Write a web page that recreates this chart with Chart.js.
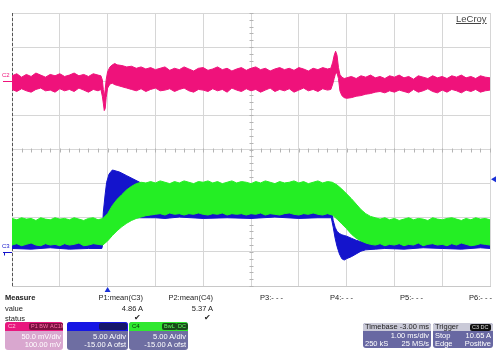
<!DOCTYPE html>
<html><head><meta charset="utf-8">
<script src="https://cdn.jsdelivr.net/npm/chart.js@4/dist/chart.umd.min.js"></script>
<style>
html,body{margin:0;padding:0;background:#fff;}
#wrap{position:relative;width:499px;height:357px;overflow:hidden;font-family:"Liberation Sans",Arial,sans-serif;}
#cv{position:absolute;left:0;top:0;}
.t{position:absolute;white-space:nowrap;font-size:7.5px;color:#222;line-height:9px;}
.r{text-align:right;}
.box{position:absolute;border-radius:3px;overflow:hidden;background:#6e6ea2;}
.hd{position:absolute;left:0;right:0;top:0;height:9px;}
.bt{position:absolute;white-space:nowrap;font-size:7.5px;color:#fff;line-height:8px;}
.tag{position:absolute;top:1px;height:7px;font-size:5.5px;line-height:7px;padding:0 2px;border-radius:2px;}
</style></head>
<body>
<div id="wrap">
<canvas id="cv" width="499" height="357"></canvas>
</div>
<script>
// ---- C2 (output voltage, mV) : upper / lower envelope of the noise band ----
const pinkT = [-2.0,-1.9,-1.8,-1.7,-1.6,-1.5,-1.4,-1.3,-1.2,-1.1,
  -1.0,-0.9,-0.8,-0.7,-0.6,-0.5,-0.4,-0.3,-0.2,
  -0.14,-0.11,-0.09,-0.07,-0.05,-0.03,0.0,0.05,0.1,0.15,0.2,
  0.3,0.4,0.5,0.6,0.7,0.8,0.9,1.0,1.1,1.2,
  1.3,1.4,1.5,1.6,1.7,1.8,1.9,2.0,2.1,2.2,
  2.3,2.4,2.5,2.6,2.7,2.8,2.9,3.0,3.1,3.2,
  3.3,3.4,3.5,3.6,3.7,3.8,3.9,4.0,4.1,4.2,
  4.3,4.4,4.5,4.6,
  4.67,4.71,4.74,4.77,4.8,4.83,4.86,4.9,4.95,5.0,
  5.1,5.2,5.3,5.4,5.5,5.6,5.7,5.8,5.9,6.0,
  6.1,6.2,6.3,6.4,6.5,6.6,6.7,6.8,6.9,7.0,
  7.1,7.2,7.3,7.4,7.5,7.6,7.7,7.8,7.9,8.0];
const pinkHi = [8,11,6,10,7,12,9,6,10,8,
  11,7,9,12,8,10,7,11,9,
  8,2,-12,-23,-12,2,14,21,24,26,24,
  23,21,22,19,21,18,20,17,19,21,
  16,19,17,21,18,15,19,20,16,18,
  21,17,19,15,18,20,16,19,21,17,
  19,15,18,20,17,19,16,20,18,15,
  19,17,20,18,
  19,28,38,44,38,20,10,6,4,5,
  7,4,8,6,9,5,7,4,8,6,
  9,5,7,3,8,6,4,8,5,7,
  4,8,6,9,5,7,4,8,6,5];
const pinkLo = [-12,-15,-11,-14,-16,-12,-10,-14,-13,-16,
  -11,-14,-12,-15,-10,-13,-16,-12,-14,
  -12,-22,-32,-43,-40,-24,-10,-4,-3,-5,-6,
  -8,-10,-12,-14,-11,-15,-12,-10,-14,-13,
  -11,-15,-12,-10,-14,-16,-12,-13,-15,-11,
  -14,-12,-16,-10,-13,-15,-11,-14,-12,-16,
  -13,-10,-15,-12,-14,-11,-16,-13,-10,-14,
  -12,-15,-11,-13,
  -12,-4,4,12,12,4,-14,-21,-24,-25,
  -24,-22,-21,-19,-18,-16,-15,-17,-14,-16,
  -13,-15,-17,-12,-16,-14,-11,-15,-17,-13,
  -16,-12,-14,-17,-13,-15,-12,-16,-14,-13];

// ---- C4 (current, A) ----
const greenT = [-2.0,-1.9,-1.8,-1.7,-1.6,-1.5,-1.4,-1.3,-1.2,-1.1,
  -1.0,-0.9,-0.8,-0.7,-0.6,-0.5,-0.4,-0.3,-0.2,-0.1,
  0.0,0.1,0.2,0.3,0.4,0.5,0.6,0.7,0.8,0.9,
  1.0,1.1,1.2,1.3,1.4,1.5,1.6,1.7,1.8,1.9,
  2.0,2.1,2.2,2.3,2.4,2.5,2.6,2.7,2.8,2.9,
  3.0,3.1,3.2,3.3,3.4,3.5,3.6,3.7,3.8,3.9,
  4.0,4.1,4.2,4.3,4.4,4.5,4.6,4.7,4.8,4.9,
  5.0,5.1,5.2,5.3,5.4,5.5,5.6,5.7,5.8,5.9,
  6.0,6.1,6.2,6.3,6.4,6.5,6.6,6.7,6.8,6.9,
  7.0,7.1,7.2,7.3,7.4,7.5,7.6,7.7,7.8,7.9,
  8.0];
const greenHi = [4.9,4.7,5.0,4.8,4.9,4.6,5.0,4.8,4.7,5.0,
  4.8,4.9,4.7,5.0,4.8,4.6,4.9,5.0,4.7,4.9,
  5.6,6.8,7.7,8.4,9.1,9.6,10.0,10.2,10.1,10.3,
  10.1,10.4,10.2,10.0,10.3,10.1,10.4,10.2,10.0,10.3,
  10.2,10.4,10.1,10.3,10.0,10.2,10.4,10.1,10.3,10.2,
  10.0,10.3,10.1,10.4,10.2,10.0,10.3,10.1,10.2,10.4,
  10.1,10.3,10.0,10.2,10.4,10.1,10.3,10.2,9.8,9.2,
  8.5,7.8,7.0,6.2,5.6,5.2,5.0,4.8,5.0,4.7,
  4.9,4.6,4.8,5.0,4.7,4.9,4.8,4.6,5.0,4.8,
  4.7,4.9,5.0,4.8,4.6,4.9,4.7,5.0,4.8,4.9,
  4.7];
const greenLo = [1.0,1.2,0.9,1.1,1.3,1.0,0.9,1.2,1.0,1.1,
  0.9,1.2,1.0,1.1,1.3,0.9,1.0,1.2,1.1,1.0,
  1.6,2.4,3.1,3.7,4.2,4.6,4.9,5.1,5.3,5.4,
  5.5,5.6,5.4,5.7,5.5,5.6,5.4,5.6,5.5,5.7,
  5.5,5.4,5.6,5.5,5.7,5.4,5.6,5.5,5.6,5.4,
  5.6,5.5,5.7,5.4,5.6,5.5,5.4,5.6,5.7,5.5,
  5.4,5.6,5.5,5.7,5.5,5.4,5.6,5.4,4.8,4.1,
  3.4,2.6,2.0,1.6,1.3,1.1,1.0,1.2,0.9,1.1,
  1.0,1.2,0.9,1.1,1.0,1.3,0.9,1.1,1.2,1.0,
  1.1,0.9,1.2,1.0,1.3,1.1,0.9,1.0,1.2,1.1,
  1.0];

// ---- C3 (current, A) ----
const blueT = [-2.0,-1.6,-1.2,-0.8,-0.4,-0.12,-0.09,-0.05,-0.02,0.03,
  0.1,0.25,0.39,0.53,0.67,0.8,0.9,1.0,1.2,1.5,
  2.0,2.5,3.0,3.5,4.0,4.4,4.68,4.72,4.76,4.8,
  4.85,4.9,4.95,5.0,5.1,5.2,5.3,5.4,5.6,5.8,
  6.2,6.6,7.0,7.4,7.8,8.0];
const blueHi = [1.5,1.5,1.5,1.5,1.5,1.5,5.8,8.5,10.2,11.4,
  12.0,11.7,11.2,10.7,10.2,9.5,8.8,8.0,7.0,6.3,
  6.2,6.2,6.2,6.2,6.2,6.2,6.2,4.6,3.6,3.0,
  2.7,2.5,2.4,2.3,2.0,1.7,1.5,1.4,1.5,1.5,
  1.5,1.5,1.5,1.5,1.5,1.5];
const blueLo = [0.5,0.4,0.6,0.4,0.5,0.5,1.5,3.0,4.5,5.0,
  5.0,5.0,5.0,5.0,5.0,5.0,5.0,5.0,4.9,5.1,
  4.9,5.0,4.9,5.1,4.9,5.0,5.0,3.6,2.0,0.8,
  -0.3,-1.0,-1.2,-1.0,-0.7,-0.3,0.1,0.3,0.4,0.5,
  0.4,0.6,0.5,0.4,0.6,0.5];

const triggerLevel = 10.65;

const pts = (t, v) => t.map((x, i) => ({x: x, y: v[i]}));
const PINK = '#ef127b', BLUE = '#1414cc', GREEN = '#24ee24';

function band(color, t, hi, lo, axis, order) {
  const common = {borderColor: color, borderWidth: 1, pointRadius: 0, tension: 0, yAxisID: axis, order: order};
  return [
    Object.assign({data: pts(t, hi), fill: '+1', backgroundColor: color}, common),
    Object.assign({data: pts(t, lo), fill: false}, common)
  ];
}

const decor = {
  id: 'decor',
  beforeDatasetsDraw(chart) {
    const ctx = chart.ctx, xs = chart.scales.x, ys = chart.scales.y, a = chart.chartArea;
    const cx = Math.round(xs.getPixelForValue(3)) + 0.5, cy = Math.round(ys.getPixelForValue(15)) + 0.5;
    ctx.save();
    ctx.strokeStyle = '#b4b4b4'; ctx.lineWidth = 1;
    ctx.beginPath();
    for (let k = 0; k <= 50; k++) { const px = Math.round(xs.getPixelForValue(-2 + k * 0.2)) + 0.5; ctx.moveTo(px, cy - 2); ctx.lineTo(px, cy + 2); }
    for (let k = 0; k <= 40; k++) { const py = Math.round(ys.getPixelForValue(-5 + k)) + 0.5; ctx.moveTo(cx - 2, py); ctx.lineTo(cx + 2, py); }
    ctx.stroke();
    // dashed left edge
    ctx.strokeStyle = '#555'; ctx.setLineDash([3, 2]);
    const lx = Math.round(a.left) + 0.5;
    ctx.beginPath(); ctx.moveTo(lx, a.top); ctx.lineTo(lx, a.bottom); ctx.stroke();
    ctx.restore();
  },
  afterDraw(chart) {
    const ctx = chart.ctx, xs = chart.scales.x, ys = chart.scales.y, yv = chart.scales.yV, a = chart.chartArea;
    ctx.save();
    const g2 = Math.round(yv.getPixelForValue(0)) + 0.5;
    ctx.strokeStyle = PINK; ctx.lineWidth = 1;
    ctx.beginPath(); ctx.moveTo(3, g2); ctx.lineTo(a.left, g2); ctx.stroke();
    const g3 = Math.round(ys.getPixelForValue(0)) + 0.5;
    ctx.strokeStyle = BLUE;
    ctx.beginPath(); ctx.moveTo(3, g3); ctx.lineTo(a.left, g3); ctx.moveTo(4.5, g3); ctx.lineTo(4.5, g3 + 3); ctx.stroke();
    ctx.fillStyle = '#1a30d8';
    const tx = xs.getPixelForValue(0);
    ctx.beginPath(); ctx.moveTo(tx, a.bottom + 1); ctx.lineTo(tx - 3, a.bottom + 6); ctx.lineTo(tx + 3, a.bottom + 6); ctx.closePath(); ctx.fill();
    const ty = ys.getPixelForValue(triggerLevel);
    ctx.beginPath(); ctx.moveTo(a.right + 1, ty); ctx.lineTo(a.right + 6, ty - 3); ctx.lineTo(a.right + 6, ty + 3); ctx.closePath(); ctx.fill();
    ctx.restore();
  }
};

new Chart(document.getElementById('cv'), {
  type: 'line',
  data: {
    datasets: [
      ...band(GREEN, greenT, greenHi, greenLo, 'y', 0),
      ...band(BLUE, blueT, blueHi, blueLo, 'y', 1),
      ...band(PINK, pinkT, pinkHi, pinkLo, 'yV', 2)
    ]
  },
  options: {
    responsive: false,
    animation: false,
    events: [],
    layout: {padding: {left: 12, top: 13, right: 9, bottom: 71}},
    plugins: {legend: {display: false}, tooltip: {enabled: false}},
    scales: {
      x: {type: 'linear', min: -2, max: 8,
          ticks: {display: false, stepSize: 1},
          grid: {color: '#d6d6d6', drawTicks: false},
          border: {color: '#c8c8c8'}},
      y: {type: 'linear', position: 'left', min: -5, max: 35,
          ticks: {display: false, stepSize: 5},
          grid: {color: '#d6d6d6', drawTicks: false},
          border: {display: false}},
      yV: {type: 'linear', display: false, min: -300, max: 100}
    }
  },
  plugins: [decor]
});
</script>
<script>
(function(){
  const w = document.getElementById('wrap');
  function add(html){ w.insertAdjacentHTML('beforeend', html); }
  add('<div class="t" style="left:456px;top:13px;font-size:9.5px;color:#444;text-decoration:underline;line-height:11px;">LeCroy</div>');
  add('<div class="t" style="left:2px;top:72px;font-size:6px;color:#ef127b;line-height:7px;">C2</div>');
  add('<div class="t" style="left:2px;top:243px;font-size:6px;color:#1414cc;line-height:7px;">C3</div>');
  add('<div class="t" style="left:5px;top:293px;font-weight:bold;">Measure</div>');
  add('<div class="t" style="left:5px;top:304px;">value</div>');
  add('<div class="t" style="left:5px;top:314px;">status</div>');
  const cols = [['P1:mean(C3)','4.86 A',true,143],['P2:mean(C4)','5.37 A',true,213],['P3:- - -','',false,283],['P4:- - -','',false,353],['P5:- - -','',false,423],['P6:- - -','',false,492]];
  cols.forEach(c => {
    add('<div class="t r" style="right:' + (499 - c[3]) + 'px;top:293px;">' + c[0] + '</div>');
    if (c[1]) add('<div class="t r" style="right:' + (499 - c[3]) + 'px;top:304px;">' + c[1] + '</div>');
    if (c[2]) add('<div class="t r" style="right:' + (499 - c[3] + 2) + 'px;top:313px;font-size:8px;">&#10004;</div>');
  });
  add('<div class="box" style="left:5px;top:322px;width:58px;height:28px;background:#d9a7cf;">' +
      '<div class="hd" style="background:#e8177e;"></div>' +
      '<div class="bt" style="left:3px;top:1px;font-size:6px;color:#ffc0dc;line-height:7px;">C2</div>' +
      '<div class="tag" style="left:24px;background:#7c1040;color:#ff70aa;">P1 BWL</div>' +
      '<div class="tag" style="left:43px;background:#7c1040;color:#ff70aa;">AC1M</div>' +
      '<div class="bt r" style="right:2px;top:11px;">50.0 mV/div</div>' +
      '<div class="bt r" style="right:2px;top:19px;">100.00 mV</div></div>');
  add('<div class="box" style="left:67px;top:322px;width:61px;height:28px;">' +
      '<div class="hd" style="background:#1616e4;"></div>' +
      '<div class="tag" style="left:32px;width:24px;background:#15156a;color:#6060ff;"></div>' +
      '<div class="bt r" style="right:2px;top:11px;">5.00 A/div</div>' +
      '<div class="bt r" style="right:2px;top:19px;">-15.00 A ofst</div></div>');
  add('<div class="box" style="left:129px;top:322px;width:59px;height:28px;">' +
      '<div class="hd" style="background:#30e830;"></div>' +
      '<div class="bt" style="left:3px;top:1px;font-size:6px;color:#0a300a;line-height:7px;">C4</div>' +
      '<div class="tag" style="left:33px;background:#1b4a1b;color:#60ff60;">BwL</div>' +
      '<div class="tag" style="left:47px;background:#1b4a1b;color:#60ff60;">DC</div>' +
      '<div class="bt r" style="right:2px;top:11px;">5.00 A/div</div>' +
      '<div class="bt r" style="right:2px;top:19px;">-15.00 A ofst</div></div>');
  add('<div class="box" style="left:363px;top:323px;width:68px;height:25px;background:#6868a2;">' +
      '<div class="hd" style="background:#cacad8;height:8px;"></div>' +
      '<div class="bt" style="left:2px;top:0px;color:#222;">Timebase</div>' +
      '<div class="bt r" style="right:2px;top:0px;color:#222;">-3.00 ms</div>' +
      '<div class="bt r" style="right:2px;top:9px;">1.00 ms/div</div>' +
      '<div class="bt" style="left:2px;top:17px;">250 kS</div>' +
      '<div class="bt r" style="right:2px;top:17px;">25 MS/s</div></div>');
  add('<div class="box" style="left:433px;top:323px;width:60px;height:25px;background:#6868a2;">' +
      '<div class="hd" style="background:#cacad8;height:8px;"></div>' +
      '<div class="bt" style="left:2px;top:0px;color:#222;">Trigger</div>' +
      '<div class="tag" style="left:37px;top:0.5px;background:#111;color:#ddd;">C3 DC</div>' +
      '<div class="bt" style="left:2px;top:9px;">Stop</div>' +
      '<div class="bt r" style="right:2px;top:9px;">10.65 A</div>' +
      '<div class="bt" style="left:2px;top:17px;">Edge</div>' +
      '<div class="bt r" style="right:2px;top:17px;">Positive</div></div>');
})();
</script>
</body></html>
